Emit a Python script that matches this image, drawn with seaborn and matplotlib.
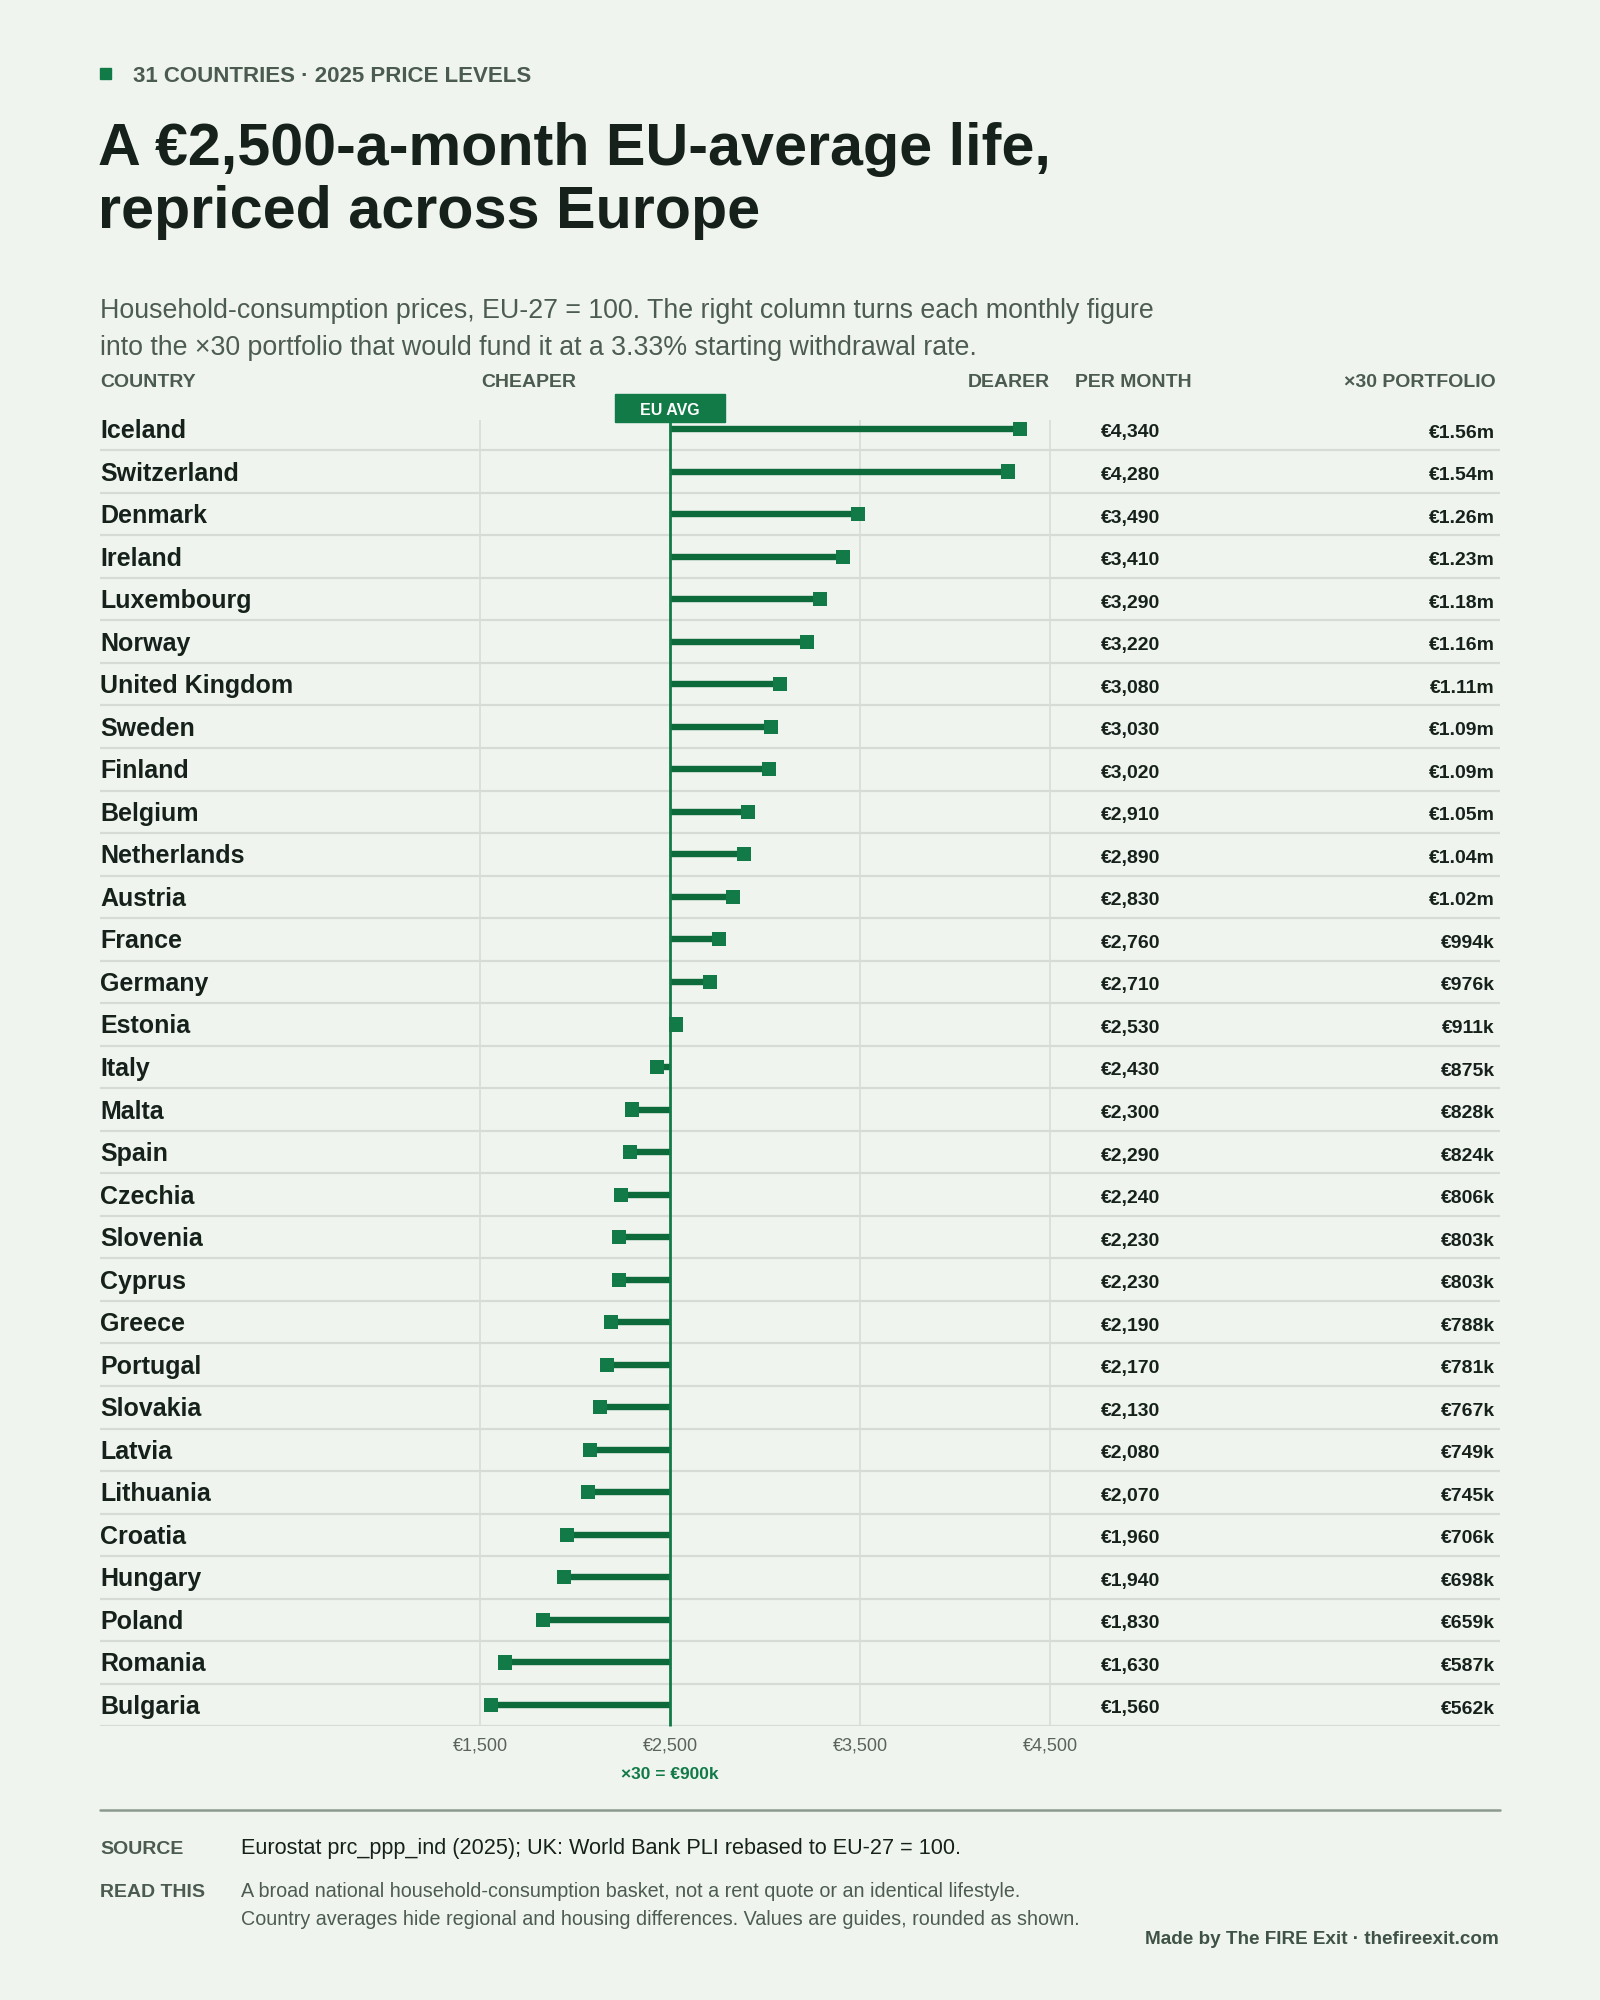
import numpy as np
import pandas as pd
import matplotlib
matplotlib.use("Agg")
import matplotlib.pyplot as plt
import matplotlib.font_manager as fm
from matplotlib.patches import Rectangle
from matplotlib.lines import Line2D
import seaborn as sns

# values (EU-27 = €2,500 a month)
countries = ["Iceland", "Switzerland", "Denmark", "Ireland", "Luxembourg", "Norway",
             "United Kingdom", "Sweden", "Finland", "Belgium", "Netherlands", "Austria",
             "France", "Germany", "Estonia", "Italy", "Malta", "Spain", "Czechia",
             "Slovenia", "Cyprus", "Greece", "Portugal", "Slovakia", "Latvia",
             "Lithuania", "Croatia", "Hungary", "Poland", "Romania", "Bulgaria"]
per_month = [4340, 4280, 3490, 3410, 3290, 3220, 3080, 3030, 3020, 2910, 2890, 2830,
             2760, 2710, 2530, 2430, 2300, 2290, 2240, 2230, 2230, 2190, 2170, 2130,
             2080, 2070, 1960, 1940, 1830, 1630, 1560]
portfolio = ["€1.56m", "€1.54m", "€1.26m", "€1.23m", "€1.18m", "€1.16m", "€1.11m",
             "€1.09m", "€1.09m", "€1.05m", "€1.04m", "€1.02m", "€994k", "€976k",
             "€911k", "€875k", "€828k", "€824k", "€806k", "€803k", "€803k", "€788k",
             "€781k", "€767k", "€749k", "€745k", "€706k", "€698k", "€659k", "€587k",
             "€562k"]
eu_avg = 2500
tick_values = [1500, 2500, 3500, 4500]
tick_labels = ["€1,500", "€2,500", "€3,500", "€4,500"]

df = pd.DataFrame({"country": countries, "monthly": per_month, "portfolio": portfolio})
df["row"] = np.arange(len(df))

# colours
BG = "#f0f4ef"
INK = "#15211a"
MUTED = "#4b5b50"
GREEN = "#117a47"
STEM = "#0d6a3b"
RULE = "#d6dbd5"

sns.set_theme(style="white")
names = {f.name for f in fm.fontManager.ttflist}
NARROW = "Liberation Sans Narrow" if "Liberation Sans Narrow" in names else "Liberation Sans"
k = 1.0 if NARROW == "Liberation Sans Narrow" else 0.82
plt.rcParams["font.family"] = ["Liberation Sans", "DejaVu Sans"]

W, H = 1600, 2000
fig = plt.figure(figsize=(16, 20), dpi=100, facecolor=BG)


def ftext(x, y, s, **kw):
    fig.text(x / W, 1 - y / H, s, **kw)


# header
fig.patches.append(Rectangle((100 / W, 1 - 79 / H), 11 / W, 11 / H,
                             transform=fig.transFigure, color=GREEN))
ftext(133, 82, "31 COUNTRIES · 2025 PRICE LEVELS", fontsize=16, fontweight="bold",
      color=MUTED, va="baseline")
ftext(98, 165, "A €2,500-a-month EU-average life,", family=[NARROW], fontsize=52 * k,
      fontweight="bold", color=INK, va="baseline")
ftext(98, 228, "repriced across Europe", family=[NARROW], fontsize=52 * k,
      fontweight="bold", color=INK, va="baseline")
ftext(100, 318, "Household-consumption prices, EU-27 = 100. The right column turns each monthly figure",
      fontsize=19.3, color="#4d5c52", va="baseline")
ftext(100, 355, "into the ×30 portfolio that would fund it at a 3.33% starting withdrawal rate.",
      fontsize=19.3, color="#4d5c52", va="baseline")

# column headers
hdr = dict(fontsize=14, fontweight="bold", color=MUTED, va="baseline")
ftext(100, 387, "COUNTRY", **hdr)
ftext(481, 387, "CHEAPER", **hdr)
ftext(1050, 387, "DEARER", ha="right", **hdr)
ftext(1075, 387, "PER MONTH", **hdr)
ftext(1496, 387, "×30 PORTFOLIO", ha="right", **hdr)

# chart axes: full table width, rows in data units
row_px = (1705 - 429) / 30
top_px = 429 - row_px / 2
bot_px = 1705 + row_px / 2
ax = fig.add_axes([100 / W, 1 - bot_px / H, 1400 / W, (bot_px - top_px) / H])
ax.set_facecolor(BG)
px_per_unit = 0.19
ax.set_xlim(eu_avg - 570 / px_per_unit, eu_avg + 830 / px_per_unit)
ax.set_ylim(len(df) - 0.5, -0.5)
for s in ax.spines.values():
    s.set_visible(False)

# row separators and vertical guides
ax.hlines(df["row"] + 0.5, *ax.get_xlim(), color=RULE, lw=1.6, zorder=1)
ax.vlines([1500, 3500, 4500], -0.21, len(df) - 0.5, color="#d9ddd8", lw=1.2, zorder=1)

# stems from the EU average
ax.hlines(df["row"], eu_avg, df["monthly"], color=STEM, lw=4.6, zorder=2,
          capstyle="butt")
ax.vlines(eu_avg, -0.16, len(df) - 0.5, color=GREEN, lw=2.0, zorder=3, clip_on=False)
sns.scatterplot(data=df, x="monthly", y="row", marker="s", s=104, color=GREEN,
                edgecolor="none", linewidth=0, zorder=4, ax=ax, legend=False)
ax.set_xlabel("")
ax.set_ylabel("")

# EU AVG flag
box_w = 110 / px_per_unit
ax.add_patch(Rectangle((eu_avg - box_w / 2, -0.16), box_w, -28 / row_px, color=GREEN,
                       clip_on=False, zorder=5))
ax.text(eu_avg, -0.16 - 7 / row_px, "EU AVG", ha="center", va="baseline", color="white",
        fontsize=11.5, fontweight="bold", zorder=6, clip_on=False)

# table text
tr = ax.get_yaxis_transform()
for r, c, m, p in zip(df["row"], df["country"], df["monthly"], df["portfolio"]):
    ax.text(0, r + 9 / row_px, c, transform=tr, fontsize=18, fontweight="bold",
            color=INK, va="baseline", ha="left")
    ax.text(1060 / 1400, r + 8.5 / row_px, f"€{m:,}", transform=tr, family=[NARROW],
            fontsize=17 * k, fontweight="bold", color=INK, va="baseline", ha="right")
    ax.text(1395 / 1400, r + 8.5 / row_px, p, transform=tr, family=[NARROW],
            fontsize=17 * k, fontweight="bold", color=INK, va="baseline", ha="right")

ax.set_yticks([])
ax.set_xticks(tick_values, tick_labels)
ax.tick_params(axis="x", length=0, pad=8, labelsize=13, labelcolor="#59635b")
ax.text(eu_avg, len(df) - 0.5 + 53 / row_px, "×30 = €900k", ha="center", va="baseline",
        fontsize=12.5, fontweight="bold", color=GREEN, clip_on=False)

# footer
fig.add_artist(Line2D([100 / W, 1500 / W], [1 - 1810 / H] * 2, color="#8c9a8e", lw=1.8,
                      transform=fig.transFigure))
lab = dict(fontsize=14, fontweight="bold", color=MUTED, va="baseline")
ftext(100, 1854, "SOURCE", **lab)
ftext(100, 1897, "READ THIS", **lab)
ftext(241, 1854, "Eurostat prc_ppp_ind (2025); UK: World Bank PLI rebased to EU-27 = 100.",
      fontsize=15.6, color=INK, va="baseline")
ftext(241, 1897, "A broad national household-consumption basket, not a rent quote or an identical lifestyle.",
      fontsize=14.2, color="#4d5c52", va="baseline")
ftext(241, 1925, "Country averages hide regional and housing differences. Values are guides, rounded as shown.",
      fontsize=14.2, color="#4d5c52", va="baseline")
ftext(1499, 1944, "Made by The FIRE Exit · thefireexit.com", ha="right", fontsize=13.6,
      fontweight="bold", color="#3f5246", va="baseline")

fig.savefig("out.png", dpi=100, facecolor=BG)
